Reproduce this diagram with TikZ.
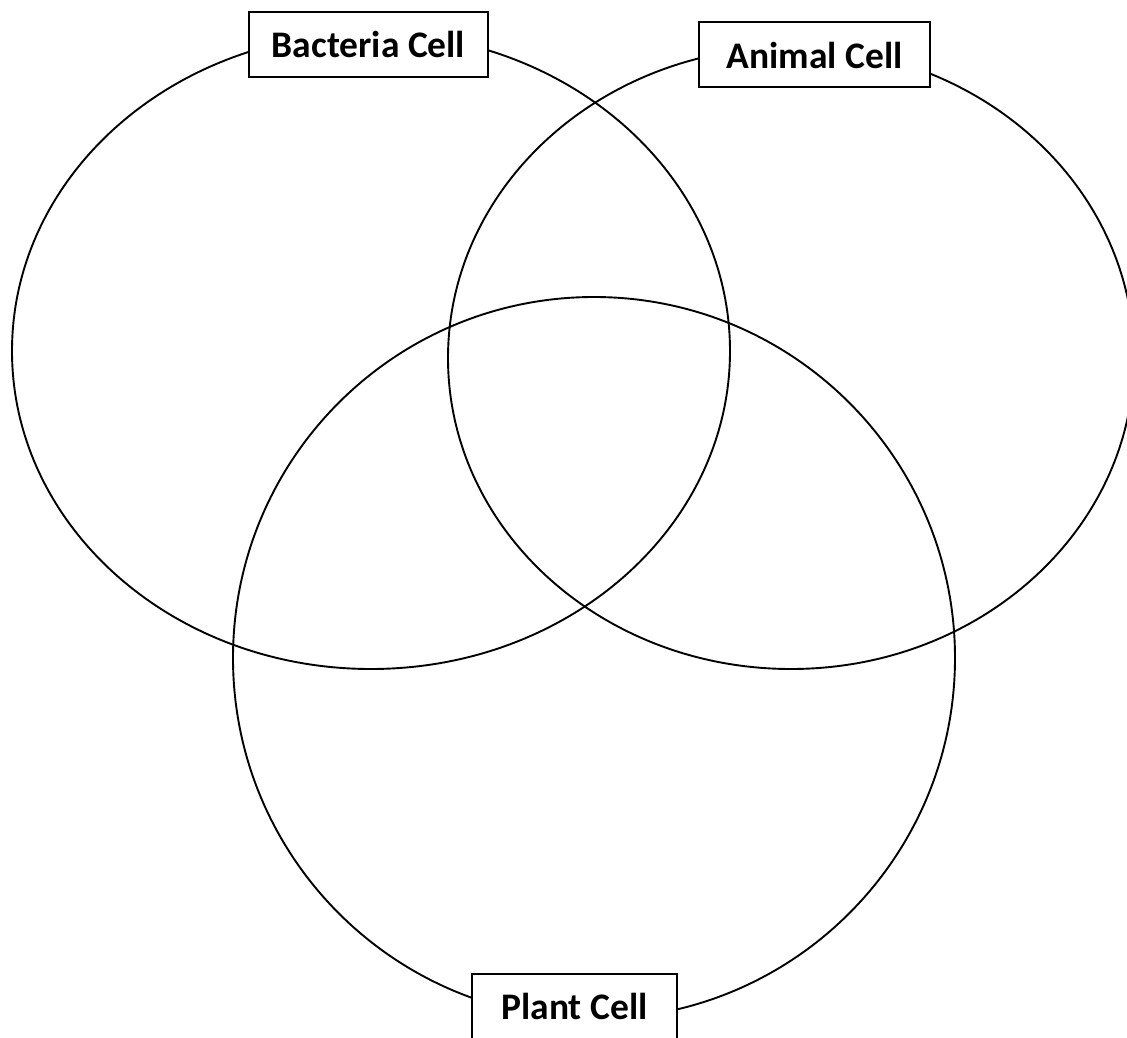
\documentclass[tikz,border=0pt]{standalone}
\usepackage{fontspec}
\setmainfont{Carlito}

\begin{document}
\begin{tikzpicture}[
        x=1pt, y=-1pt,
        cell/.style={draw=black, line width=1.9pt},
        label/.style={draw=black, fill=white, line width=2pt, minimum height=65pt,
            inner sep=0pt, font=\fontsize{37.5}{40}\selectfont\bfseries}
    ]
        % Frame
        \useasboundingbox (0,0) rectangle (1127,1038);
        \clip (0,0) rectangle (1127,1038);

        % Cell centres
        \coordinate (bc) at (371,351);
        \coordinate (ac) at (791,358);
        \coordinate (pc) at (594,658);

        % Cells
        \draw[cell] (bc) ellipse [x radius=359pt, y radius=318pt];
        \draw[cell] (ac) ellipse [x radius=343pt, y radius=311pt];
        \draw[cell] (pc) ellipse [x radius=361pt, y radius=361pt];

        % Labels
        \node[label, minimum width=239pt] (bacteria) at (368.5,44.5) {Bacteria Cell};
        \node[label, minimum width=231pt] (animal) at (814.5,55) {Animal Cell};
        \node[label, minimum width=205pt] (plant) at (574.5,1006) {Plant Cell};
    \end{tikzpicture}
\end{document}
